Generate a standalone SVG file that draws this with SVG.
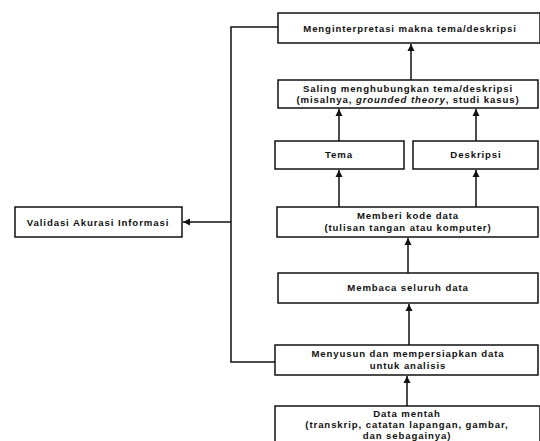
<svg xmlns="http://www.w3.org/2000/svg" width="540" height="441" viewBox="0 0 540 441">
<defs>
<marker id="ah" viewBox="0 0 10 10" refX="10" refY="5" markerWidth="7" markerHeight="9" markerUnits="userSpaceOnUse" orient="auto">
<path d="M0,0 L10,5 L0,10 Z" fill="#111"/>
</marker>
<style>
.box{fill:#fff;stroke:#111;stroke-width:1.5}
.t{font-family:"Liberation Sans",Arial,sans-serif;font-weight:bold;font-size:9.6px;letter-spacing:0.9px;fill:#111;text-anchor:middle}
.c{fill:none;stroke:#111;stroke-width:1.5}
</style>
</defs>
<rect width="540" height="441" fill="#fff"/>
<g id="connectors">
<line class="c" x1="411" y1="80" x2="411" y2="44" marker-end="url(#ah)"/>
<line class="c" x1="339" y1="141" x2="339" y2="109" marker-end="url(#ah)"/>
<line class="c" x1="476" y1="141" x2="476" y2="109" marker-end="url(#ah)"/>
<line class="c" x1="339" y1="207" x2="339" y2="170" marker-end="url(#ah)"/>
<line class="c" x1="476" y1="207" x2="476" y2="170" marker-end="url(#ah)"/>
<line class="c" x1="408" y1="273" x2="408" y2="238" marker-end="url(#ah)"/>
<line class="c" x1="409" y1="345" x2="409" y2="304" marker-end="url(#ah)"/>
<line class="c" x1="407" y1="406" x2="407" y2="376" marker-end="url(#ah)"/>
<polyline class="c" points="278,27 231,27 231,362 275,362"/>
<line class="c" x1="231" y1="222" x2="183" y2="222" marker-end="url(#ah)"/>
</g>
<g id="n-interpretasi">
<rect class="box" x="278" y="13" width="262" height="30"/>
<text class="t" x="410" y="32">Menginterpretasi makna tema/deskripsi</text>
</g>
<g id="n-saling">
<rect class="box" x="278" y="80" width="260" height="28"/>
<text class="t" x="408" y="92">Saling menghubungkan tema/deskripsi</text>
<text class="t" x="408" y="103">(misalnya, <tspan font-style="italic">grounded theory</tspan>, studi kasus)</text>
</g>
<g id="n-tema">
<rect class="box" x="275" y="141" width="129" height="28"/>
<text class="t" x="339" y="158">Tema</text>
</g>
<g id="n-deskripsi">
<rect class="box" x="413" y="141" width="125" height="28"/>
<text class="t" x="476" y="158">Deskripsi</text>
</g>
<g id="n-memberi">
<rect class="box" x="277" y="207" width="261" height="30"/>
<text class="t" x="408" y="219">Memberi kode data</text>
<text class="t" x="408" y="231">(tulisan tangan atau komputer)</text>
</g>
<g id="n-membaca">
<rect class="box" x="278" y="273" width="260" height="30"/>
<text class="t" x="408" y="291">Membaca seluruh data</text>
</g>
<g id="n-menyusun">
<rect class="box" x="275" y="345" width="263" height="30"/>
<text class="t" x="408" y="357">Menyusun dan mempersiapkan data</text>
<text class="t" x="408" y="369">untuk analisis</text>
</g>
<g id="n-data">
<rect class="box" x="275" y="406" width="265" height="40"/>
<text class="t" x="407" y="417">Data mentah</text>
<text class="t" x="407" y="428">(transkrip, catatan lapangan, gambar,</text>
<text class="t" x="407" y="439">dan sebagainya)</text>
</g>
<g id="n-validasi">
<rect class="box" x="15" y="207" width="167" height="30"/>
<text class="t" x="98" y="226">Validasi Akurasi Informasi</text>
</g>
</svg>
